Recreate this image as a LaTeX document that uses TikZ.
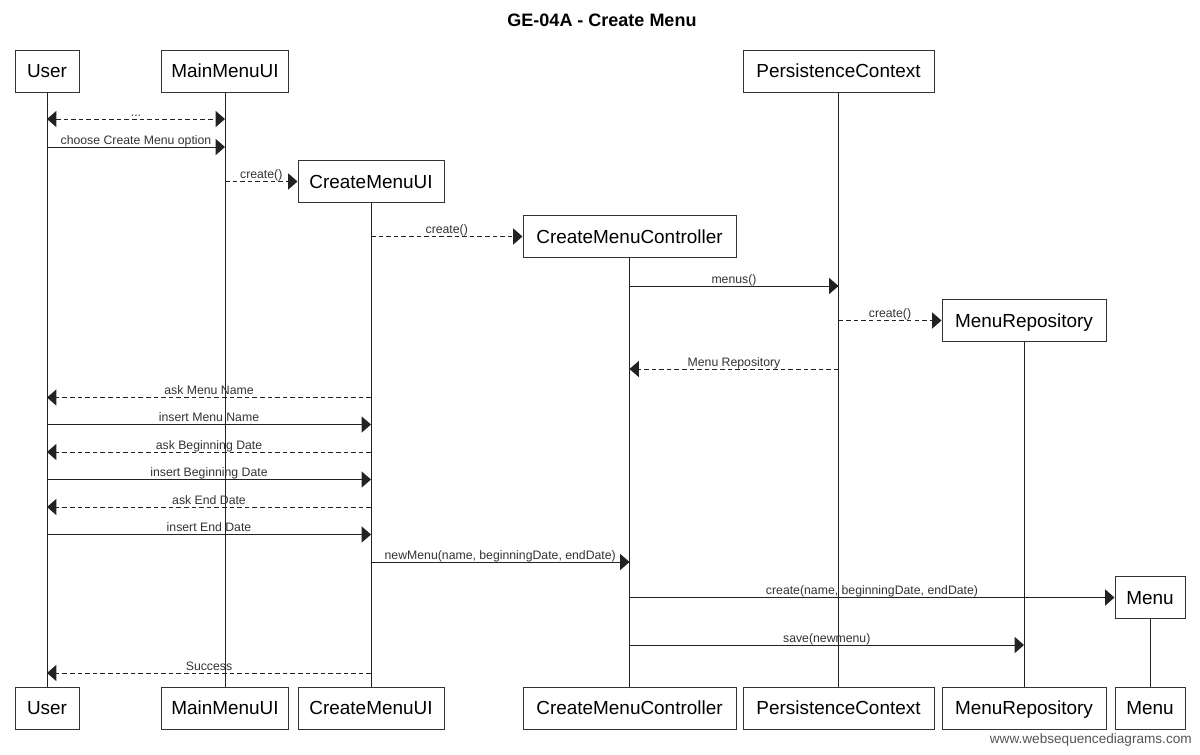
\documentclass[tikz,border=0pt]{standalone}
\usepackage{fontspec}
\setmainfont{Liberation Sans}
\usetikzlibrary{arrows.meta}
\definecolor{bcol}{HTML}{333333}
\definecolor{lcol}{HTML}{222222}
\definecolor{tcol}{HTML}{333333}
\definecolor{wcol}{HTML}{555555}
\newcommand\sqmsg[5]{\draw[#5] (#1 |- 0,#3) -- node[lbl]{#4} (#2 |- 0,#3);}
\begin{document}
\begin{tikzpicture}[x=0.75pt,y=-0.75pt,
  head/.style={draw=bcol, line width=0.75pt, fill=white, inner sep=0pt,
    minimum height=42*0.75pt, font=\fontsize{14.2pt}{16pt}\selectfont,
    text height=10.2pt, text depth=0pt},
  life/.style={draw=lcol, line width=0.75pt},
  sol/.style={draw=lcol, line width=0.75pt, -{Triangle[length=7pt,width=12pt]}},
  dsh/.style={sol, dash pattern=on 3.4pt off 2.3pt},
  dshb/.style={dsh, {Triangle[length=7pt,width=12pt]}-{Triangle[length=7pt,width=12pt]}},
  lbl/.style={midway, anchor=base, yshift=2pt, inner sep=0pt, text=tcol,
    font=\fontsize{9.2pt}{10pt}\selectfont}]
\useasboundingbox (0,0) rectangle (1200,754);
\node[font=\bfseries\fontsize{13.5pt}{15pt}\selectfont] (title) at (602,20) {GE-04A - Create Menu};
% top heads
\node[head, minimum width=64*0.75pt] (uT) at (47,71) {User};
\node[head, minimum width=127*0.75pt] (mT) at (225,71) {MainMenuUI};
\node[head, minimum width=146*0.75pt] (cT) at (371,181.5) {CreateMenuUI};
\node[head, minimum width=213*0.75pt] (kT) at (629.5,236.5) {CreateMenuController};
\node[head, minimum width=191*0.75pt] (pT) at (838.5,71) {PersistenceContext};
\node[head, minimum width=164*0.75pt] (rT) at (1024,320.5) {MenuRepository};
\node[head, minimum width=70*0.75pt] (nT) at (1150,597.5) {Menu};
% bottom heads
\node[head, minimum width=64*0.75pt] (uB) at (47,708) {User};
\node[head, minimum width=127*0.75pt] (mB) at (225,708) {MainMenuUI};
\node[head, minimum width=146*0.75pt] (cB) at (371,708) {CreateMenuUI};
\node[head, minimum width=213*0.75pt] (kB) at (629.5,708) {CreateMenuController};
\node[head, minimum width=191*0.75pt] (pB) at (838.5,708) {PersistenceContext};
\node[head, minimum width=164*0.75pt] (rB) at (1024,708) {MenuRepository};
\node[head, minimum width=70*0.75pt] (nB) at (1150,708) {Menu};
% lifelines
\draw[life] (uT.south) -- (uB.north);
\draw[life] (mT.south) -- (mB.north);
\draw[life] (cT.south) -- (cB.north);
\draw[life] (kT.south) -- (kB.north);
\draw[life] (pT.south) -- (pB.north);
\draw[life] (rT.south) -- (rB.north);
\draw[life] (nT.south) -- (nB.north);
% messages
\sqmsg{uT}{mT}{119}{...}{dshb}
\sqmsg{uT}{mT}{147}{choose Create Menu option}{sol}
\draw[dsh] (mT |- cT.west) -- node[lbl]{create()} (cT.west);
\draw[dsh] (cT |- kT.west) -- node[lbl]{create()} (kT.west);
\sqmsg{kT}{pT}{286}{menus()}{sol}
\draw[dsh] (pT |- rT.west) -- node[lbl]{create()} (rT.west);
\sqmsg{pT}{kT}{369}{Menu Repository}{dsh}
\sqmsg{cT}{uT}{397.5}{ask Menu Name}{dsh}
\sqmsg{uT}{cT}{424.5}{insert Menu Name}{sol}
\sqmsg{cT}{uT}{452}{ask Beginning Date}{dsh}
\sqmsg{uT}{cT}{479.5}{insert Beginning Date}{sol}
\sqmsg{cT}{uT}{507}{ask End Date}{dsh}
\sqmsg{uT}{cT}{534.5}{insert End Date}{sol}
\sqmsg{cT}{kT}{562}{newMenu(name, beginningDate, endDate)}{sol}
\draw[sol] (kT |- nT.west) -- node[lbl]{create(name, beginningDate, endDate)} (nT.west);
\sqmsg{kT}{rT}{645}{save(newmenu)}{sol}
\sqmsg{cT}{uT}{673}{Success}{dsh}
\node[anchor=base east, inner sep=0pt, text=wcol, font=\fontsize{10.2pt}{11pt}\selectfont] (wm) at (1192,743.5) {www.websequencediagrams.com};
\end{tikzpicture}
\end{document}
